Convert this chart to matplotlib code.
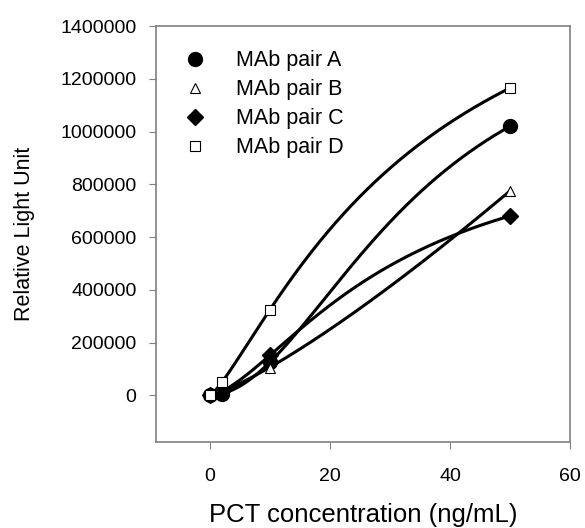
import numpy as np
import matplotlib.pyplot as plt

plt.rcParams['font.family'] = ['Liberation Sans', 'DejaVu Sans']

# PCT concentration (ng/mL)
conc = np.array([0, 2, 10, 50])

# Relative light units for each antibody pair
rlu_a = np.array([0, 6000, 126000, 1020000])
rlu_b = np.array([0, 20000, 105000, 775000])
rlu_c = np.array([0, 15000, 152000, 680000])
rlu_d = np.array([0, 50000, 325000, 1165000])

series = [
    ('MAb pair A', rlu_a, dict(marker='o', ms=10, mfc='black', mec='black')),
    ('MAb pair B', rlu_b, dict(marker='^', ms=6.5, mfc='white', mec='black', mew=0.8)),
    ('MAb pair C', rlu_c, dict(marker='D', ms=8.5, mfc='black', mec='black')),
    ('MAb pair D', rlu_d, dict(marker='s', ms=7, mfc='white', mec='black', mew=0.8)),
]


def logistic(x, p):
    # 4PL with bottom fixed at 0: p = [log top, log ec50, slope]
    top, ec50, slope = np.exp(p[0]), np.exp(p[1]), p[2]
    x = np.asarray(x, dtype=float)
    out = np.zeros_like(x)
    pos = x > 0
    out[pos] = top / (1 + (ec50 / x[pos]) ** slope)
    return out


def fit_logistic(x, y, iters=400):
    p = np.array([np.log(2 * y.max()), np.log(40.0), 1.5])
    lam = 1e-2
    scale = 1e6
    def resid(q):
        return (logistic(x, q) - y) / scale
    r = resid(p)
    for _ in range(iters):
        J = np.zeros((len(x), 3))
        for k in range(3):
            dq = np.zeros(3)
            dq[k] = 1e-6
            J[:, k] = (resid(p + dq) - r) / 1e-6
        A = J.T @ J
        g = J.T @ r
        step = -np.linalg.solve(A + lam * np.diag(np.diag(A) + 1e-12), g)
        p_new = p + step
        r_new = resid(p_new)
        if np.sum(r_new ** 2) < np.sum(r ** 2):
            p, r = p_new, r_new
            lam *= 0.5
        else:
            lam *= 4
    return p


fig = plt.figure(figsize=(5.85, 5.28), dpi=100)
ax = fig.add_axes([156 / 585, 1 - 442 / 528, 414 / 585, 416 / 528])

x_fine = np.linspace(0, 50, 300)
for label, y, style in series:
    p = fit_logistic(conc, y)
    ax.plot(x_fine, logistic(x_fine, p), color='black', lw=2.2, zorder=2)
    ax.plot(conc, y, ls='none', label=label, zorder=3, **style)

ax.set_xlim(-9, 60)
ax.set_ylim(-177000, 1400000)
ax.set_xticks([0, 20, 40, 60])
ax.set_yticks(np.arange(0, 1400001, 200000))
ax.set_yticklabels([str(v) for v in np.arange(0, 1400001, 200000)])
ax.tick_params(direction='out', length=5, color='#808080', labelsize=14, pad=9)
ax.tick_params(axis='x', pad=14)
for sp in ax.spines.values():
    sp.set_color('#808080')
    sp.set_linewidth(1.2)

ax.set_xlabel('PCT concentration (ng/mL)', fontsize=18.5, labelpad=13)
ax.set_ylabel('Relative Light Unit', fontsize=15.5, labelpad=18)

ax.legend(loc='upper left', bbox_to_anchor=(0.035, 0.962), frameon=False,
          fontsize=15.5, handletextpad=1.15, labelspacing=0.37, borderaxespad=0,
          handlelength=1.5)

fig.savefig('out.png', dpi=100)
